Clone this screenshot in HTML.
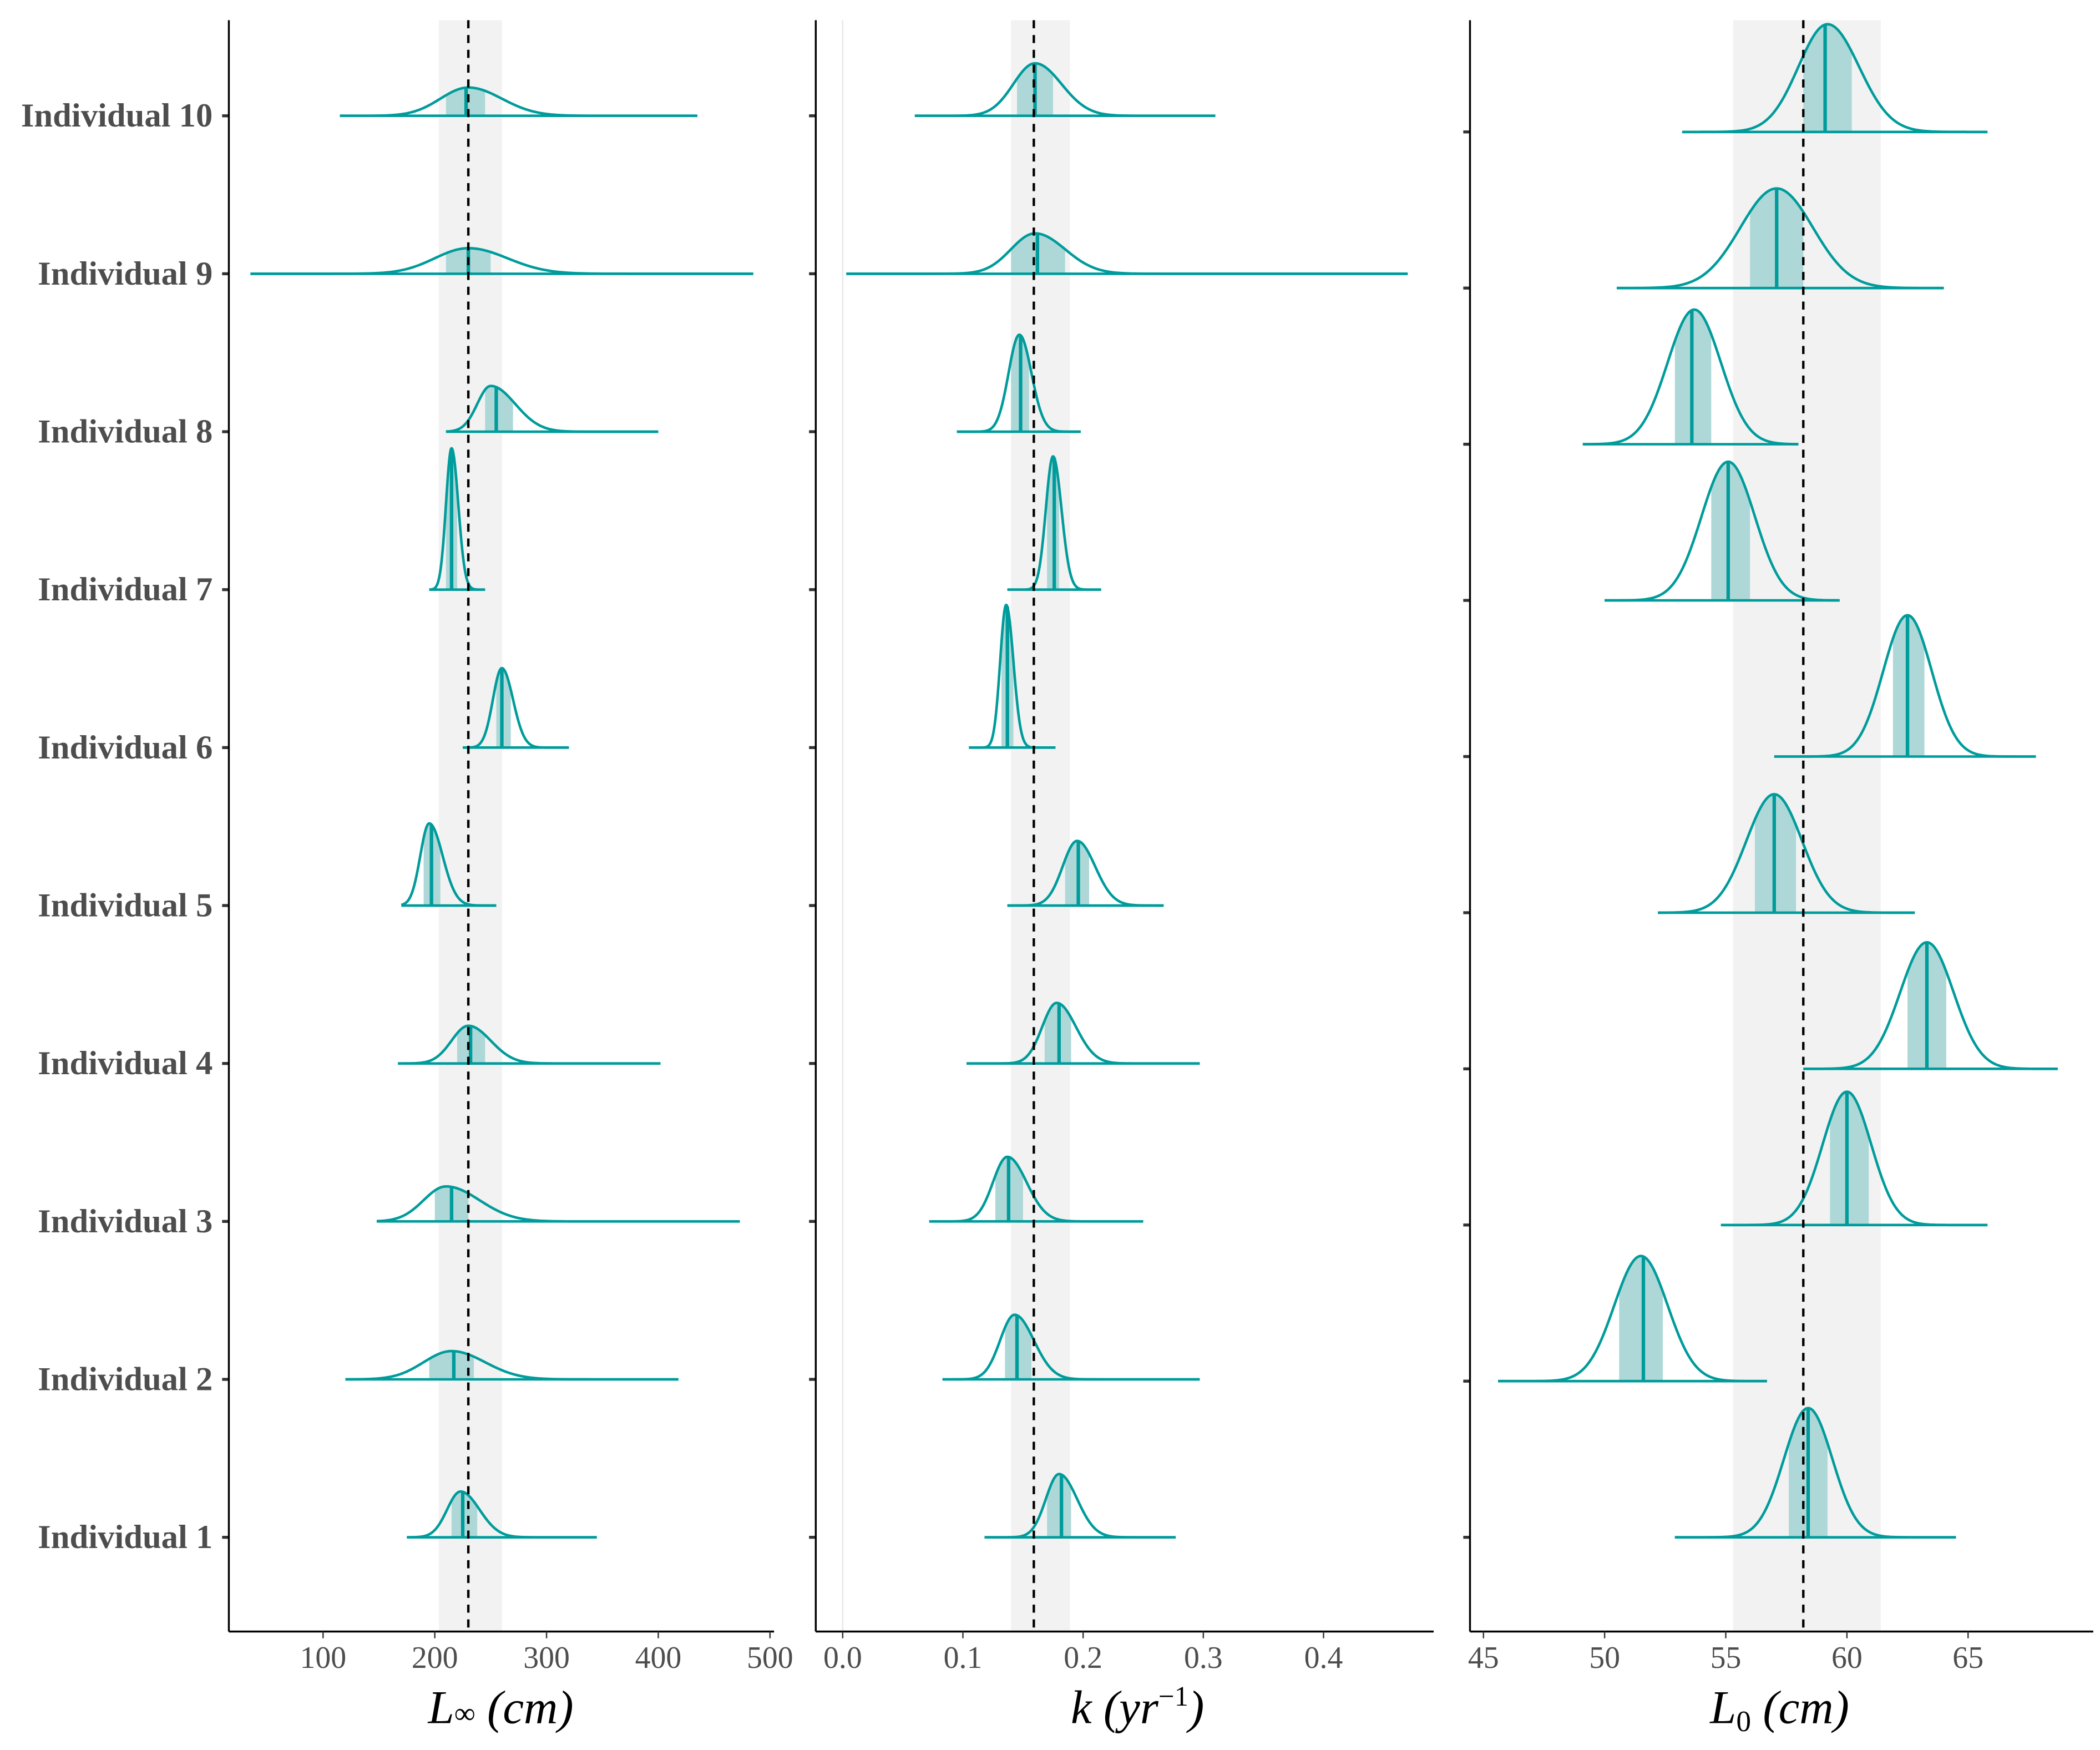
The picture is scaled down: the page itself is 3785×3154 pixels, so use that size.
<!DOCTYPE html>
<html><head><meta charset="utf-8"><style>
html,body{margin:0;padding:0;background:#fff;}
svg{display:block;}
text{font-family:"Liberation Serif",serif;}
</style></head><body>
<svg id="chart" width="3785" height="3154" viewBox="0 0 1560 1300" preserveAspectRatio="none" xmlns="http://www.w3.org/2000/svg">
<rect x="0" y="0" width="1560" height="1300" fill="#fff"/>
</svg>
<script>
const individuals = ["Individual 1","Individual 2","Individual 3","Individual 4","Individual 5","Individual 6","Individual 7","Individual 8","Individual 9","Individual 10"];
// Panel 1: L-infinity
const linfMode = [223,215,210,230,195,260,215,250,230,230];
const linfSdL  = [12,25,20,15,8,8,5,12,30,25];
const linfSdR  = [17,30,30,20,12,10,6,22,35,30];
const linfMin  = [175,120,148,167,170,225,195,210,35,115];
const linfMax  = [345,418,473,402,255,320,245,400,485,435];
const linfPeak = [34,21,26,28,61,59,105,34,19,21];
const linfMed  = [225,217,215,232,197,260,215,255,230,228];
const linfLo   = [215,195,200,220,190,255,210,245,210,210];
const linfHi   = [238,235,230,245,205,268,220,270,250,245];
const linfTicks = [100,200,300,400,500];
const linfRef = [203.6,230,260.2];
// Panel 2: k
const kMode = [0.18,0.143,0.137,0.178,0.195,0.136,0.175,0.147,0.16,0.16];
const kSdL  = [0.011,0.012,0.012,0.012,0.012,0.005,0.006,0.009,0.02,0.018];
const kSdR  = [0.015,0.016,0.016,0.016,0.015,0.006,0.007,0.01,0.025,0.022];
const kMin  = [0.118,0.083,0.072,0.103,0.137,0.105,0.137,0.095,0.003,0.06];
const kMax  = [0.277,0.297,0.25,0.297,0.267,0.177,0.215,0.198,0.47,0.31];
const kPeak = [47,48,48,45,48,106,99,72,30,39];
const kMed  = [0.182,0.145,0.138,0.18,0.196,0.137,0.176,0.148,0.162,0.16];
const kLo   = [0.17,0.135,0.127,0.168,0.185,0.132,0.17,0.14,0.14,0.145];
const kHi   = [0.19,0.157,0.15,0.19,0.205,0.142,0.18,0.155,0.185,0.175];
const kTicks = [0.0,0.1,0.2,0.3,0.4];
const kRef = [0.14,0.159,0.189];
// Panel 3: L0
const l0Mode = [58.4,51.5,60,63.3,57,62.5,55.1,53.7,57.1,59.2];
const l0SdL  = [1.0,1.1,1.0,1.1,1.15,1.0,1.1,1.1,1.5,1.2];
const l0SdR  = [1.0,1.1,1.0,1.1,1.15,1.0,1.1,1.1,1.5,1.3];
const l0Min  = [52.9,45.6,54.8,58.2,52.2,57,50,49.1,50.5,53.2];
const l0Max  = [64.5,56.7,65.8,68.7,62.8,67.8,59.7,58,64,65.8];
const l0Peak = [96,93,99,94,88,105,103,100,74,80];
const l0Med  = [58.4,51.6,60.0,63.3,57.0,62.5,55.1,53.6,57.1,59.1];
const l0Lo   = [57.6,50.6,59.3,62.5,56.2,61.9,54.4,52.9,56.0,58.2];
const l0Hi   = [59.2,52.4,60.9,64.1,57.9,63.2,56.0,54.4,58.2,60.2];
const l0Ticks = [45,50,55,60,65];
const l0Ref = [55.3,58.2,61.4];

const NS="http://www.w3.org/2000/svg";
const svg=document.getElementById('chart');
function mk(tag,attrs,parent){const e=document.createElementNS(NS,tag);for(const k in attrs)e.setAttribute(k,attrs[k]);(parent||svg).appendChild(e);return e;}
const TEAL="#009b9b";

const panels=[
 {name:'linf',left:170,right:575,x0:240,v0:100,ppu:0.83,base0:1142,step:117.33,
  mode:linfMode,sdL:linfSdL,sdR:linfSdR,mn:linfMin,mx:linfMax,pk:linfPeak,med:linfMed,lo:linfLo,hi:linfHi,ticks:linfTicks,ref:linfRef,fmt:v=>String(v),labels:true,zero:false},
 {name:'k',left:606,right:1065,x0:626,v0:0,ppu:893,base0:1142,step:117.33,
  mode:kMode,sdL:kSdL,sdR:kSdR,mn:kMin,mx:kMax,pk:kPeak,med:kMed,lo:kLo,hi:kHi,ticks:kTicks,ref:kRef,fmt:v=>v.toFixed(1),labels:false,zero:true},
 {name:'l0',left:1092,right:1555,x0:1102,v0:45,ppu:18,base0:1142,step:116,
  mode:l0Mode,sdL:l0SdL,sdR:l0SdR,mn:l0Min,mx:l0Max,pk:l0Peak,med:l0Med,lo:l0Lo,hi:l0Hi,ticks:l0Ticks,ref:l0Ref,fmt:v=>String(v),labels:false,zero:false}
];

panels.forEach(p=>{
 const xs=v=>p.x0+(v-p.v0)*p.ppu;
 const ys=i=>p.base0-i*p.step;
 const g=mk('g',{});
 
 
 const band=mk('rect',{x:xs(p.ref[0]),y:15,width:xs(p.ref[2])-xs(p.ref[0]),height:1197,fill:'#f2f2f2'},g);
 
 
 if(p.zero){const z=mk('line',{x1:xs(0),x2:xs(0),y1:15,y2:1212,stroke:'#e6e6e6','stroke-width':1},g);
  }
 for(let i=0;i<individuals.length;i++){
  const b=ys(i), m=p.mode[i];
  const dens=v=>{const s=v<m?p.sdL[i]:p.sdR[i];return p.pk[i]*Math.exp(-((v-m)*(v-m))/(2*s*s));};
  const N=200;let pts=[];
  for(let j=0;j<=N;j++){const v=p.mn[i]+(p.mx[i]-p.mn[i])*j/N;pts.push([xs(v),b-dens(v)]);}
  let ci=[];const M=60;
  for(let j=0;j<=M;j++){const v=p.lo[i]+(p.hi[i]-p.lo[i])*j/M;ci.push([xs(v),b-dens(v)]);}
  const ciD='M'+xs(p.lo[i])+','+b+' '+ci.map(q=>'L'+q[0].toFixed(2)+','+q[1].toFixed(2)).join(' ')+' L'+xs(p.hi[i])+','+b+'Z';
  const cf=mk('path',{d:ciD,fill:'#aed8d8',stroke:'none'},g);
  
  
  const d='M'+pts.map(q=>q[0].toFixed(2)+','+q[1].toFixed(2)).join(' L');
  const c=mk('path',{d:d,fill:'none',stroke:TEAL,'stroke-width':1.9,'stroke-linejoin':'round'},g);
  
  
  const bl=mk('line',{x1:xs(p.mn[i]),x2:xs(p.mx[i]),y1:b,y2:b,stroke:TEAL,'stroke-width':1.9},g);
  
  
  const md=mk('line',{x1:xs(p.med[i]),x2:xs(p.med[i]),y1:b,y2:b-dens(p.med[i]),stroke:TEAL,'stroke-width':2.6},g);
  
  
  const tk=mk('line',{x1:p.left-5,x2:p.left,y1:b,y2:b,stroke:'#333','stroke-width':2.2},g);
  
  
  if(p.labels){const t=mk('text',{x:158,y:b+8,'text-anchor':'end','font-size':25,'font-weight':'bold',fill:'#4d4d4d'},g);
   t.textContent=individuals[i];
   
   }
 }
 const dl=mk('line',{x1:xs(p.ref[1]),x2:xs(p.ref[1]),y1:15,y2:1212,stroke:'#000','stroke-width':1.8,'stroke-dasharray':'6,5'},g);
 
 
 const ya=mk('line',{x1:p.left,x2:p.left,y1:15,y2:1212,stroke:'#000','stroke-width':1.4},g);
 
 const xa=mk('line',{x1:p.left,x2:p.right,y1:1212,y2:1212,stroke:'#000','stroke-width':1.4},g);
 
 p.ticks.forEach(v=>{
  const tl=mk('line',{x1:xs(v),x2:xs(v),y1:1212,y2:1217,stroke:'#333','stroke-width':1},g);
  
  const tt=mk('text',{x:xs(v),y:1239,'text-anchor':'middle','font-size':23,fill:'#4d4d4d'},g);
  tt.textContent=p.fmt(v);
  
 });
});
function title(x,parts,name){
 const t=mk('text',{x:x,y:1280,'text-anchor':'middle','font-size':35,'font-style':'italic',fill:'#000'});
 
 parts.forEach(pt=>{const s=mk('tspan',pt.a||{},t);s.textContent=pt.t;});
}
title(372,[{t:'L'},{t:'∞',a:{'font-size':22,'font-style':'normal'}},{t:' (cm)'}],'x-axis-title-linf');
title(845,[{t:'k (yr'},{t:'−1',a:{'font-size':21,dy:-13,'font-style':'normal'}},{t:')',a:{dy:13}}],'x-axis-title-k');
title(1322,[{t:'L'},{t:'0',a:{'font-size':22,dy:6,'font-style':'normal'}},{t:' (cm)',a:{dy:-6}}],'x-axis-title-l0');
</script>
</body></html>
